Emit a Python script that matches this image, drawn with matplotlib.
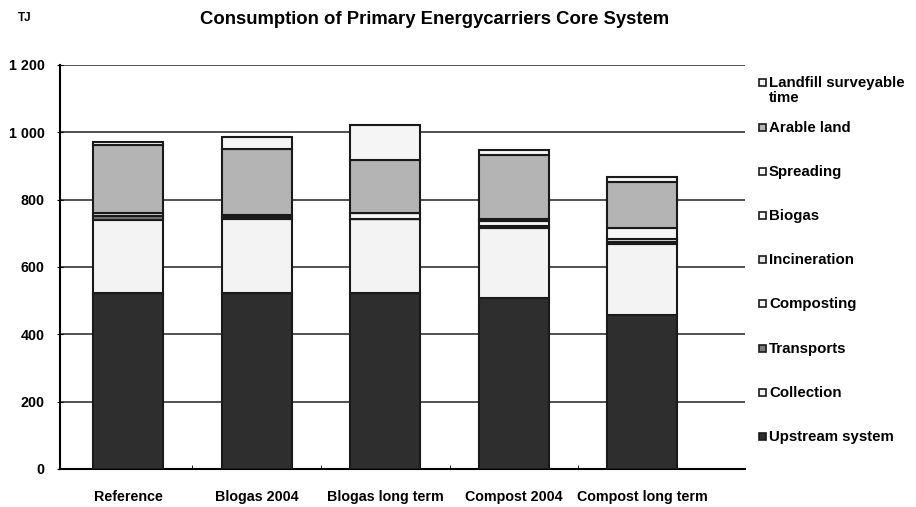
import matplotlib.pyplot as plt
from matplotlib.patches import Rectangle
import numpy as np

plt.rcParams["font.family"] = ["Liberation Sans", "DejaVu Sans"]
plt.rcParams["font.weight"] = "bold"

scenarios = ["Reference", "Blogas 2004", "Blogas long term", "Compost 2004", "Compost long term"]

# TJ per scenario, bottom to top
upstream = [522, 522, 523, 507, 457]
collection = [218, 220, 218, 210, 210]
transports = [12, 5, 0, 5, 6]
composting = [0, 0, 0, 13, 10]
incineration = [8, 0, 0, 6, 0]
biogas = [0, 8, 20, 0, 0]
spreading = [0, 0, 0, 0, 32]
arable_land = [202, 195, 157, 190, 138]
landfill = [10, 35, 104, 15, 15]

series = [
    ("Upstream system", upstream, "#2e2e2e"),
    ("Collection", collection, "#f3f3f3"),
    ("Transports", transports, "#7a7a7a"),
    ("Composting", composting, "#f5f5f5"),
    ("Incineration", incineration, "#e6e6e6"),
    ("Biogas", biogas, "#f7f7f7"),
    ("Spreading", spreading, "#f7f7f7"),
    ("Arable land", arable_land, "#b4b4b4"),
    ("Landfill surveyable\ntime", landfill, "#f5f5f5"),
]

fig = plt.figure(figsize=(9.16, 5.07), dpi=100)
ax = fig.add_axes([0.0655, 0.075, 0.748, 0.797])

x = np.arange(len(scenarios))
bottom = np.zeros(len(scenarios))
for name, vals, col in series:
    ax.bar(x, vals, 0.545, bottom=bottom, color=col, edgecolor="#1a1a1a",
           linewidth=1.5, zorder=3)
    bottom += np.array(vals)

ax.set_ylim(0, 1200)
ax.set_xlim(-0.53, 4.80)
ax.set_yticks(range(0, 1201, 200))
ax.set_yticklabels(["0", "200", "400", "600", "800", "1 000", "1 200"],
                   fontsize=10.3, fontweight="bold")
ax.set_xticks(x)
ax.set_xticklabels(scenarios, fontsize=10.3, fontweight="bold")
ax.set_xticks(x[:-1] + 0.5, minor=True)
ax.tick_params(axis="x", which="major", length=0, pad=15)
ax.tick_params(axis="x", which="minor", length=3, direction="in")
ax.tick_params(axis="y", length=4, direction="inout", pad=9)
ax.yaxis.grid(True, color="#333333", linewidth=1.2, zorder=0)
ax.set_axisbelow(True)
for s in ["top", "right"]:
    ax.spines[s].set_visible(False)
ax.spines["left"].set_linewidth(1.5)
ax.spines["bottom"].set_linewidth(1.5)

fig.text(0.474, 0.962, "Consumption of Primary Energycarriers Core System",
         ha="center", va="center", fontsize=13.3, fontweight="bold")
fig.text(0.019, 0.965, "TJ", ha="left", va="center", fontsize=8.5, fontweight="bold")

# legend, top entry first
W, H = 916, 507
for i, (name, vals, col) in enumerate(series):
    ypix = 437 - i * 44.2
    fig.patches.append(Rectangle(((759) / W, 1 - (ypix + 3) / H), 7 / W, 7 / H,
                                 transform=fig.transFigure, facecolor=col,
                                 edgecolor="#1a1a1a", linewidth=1.2))
    fig.text(769 / W, 1 - (ypix - 7) / H, name, ha="left", va="top",
             fontsize=10.8, fontweight="bold", linespacing=1.05)

fig.savefig("out.png", dpi=100)
